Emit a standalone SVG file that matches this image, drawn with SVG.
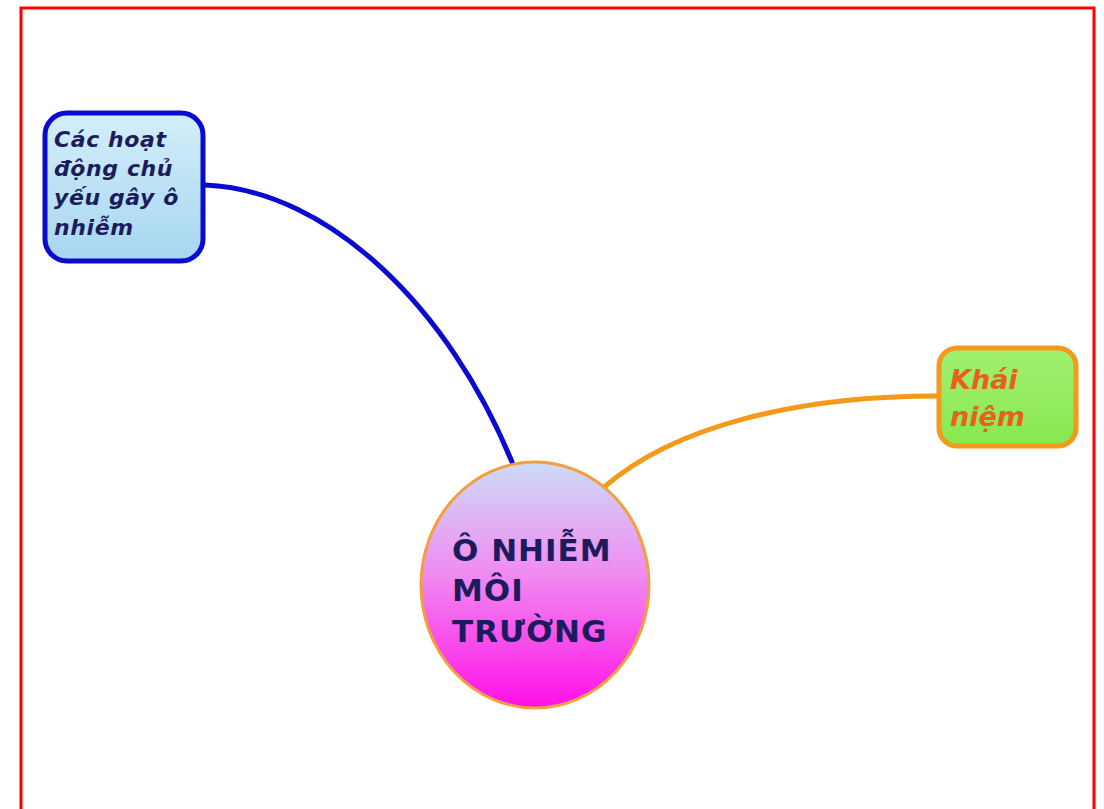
<svg xmlns="http://www.w3.org/2000/svg" width="1104" height="809" viewBox="0 0 1104 809">
<defs>
<linearGradient id="gBlue" x1="0" y1="0" x2="0" y2="1">
<stop offset="0" stop-color="#d4eefa"/>
<stop offset="1" stop-color="#a6d6f0"/>
</linearGradient>
<linearGradient id="gGreen" x1="0" y1="0" x2="0" y2="1">
<stop offset="0" stop-color="#a0f070"/>
<stop offset="1" stop-color="#88e850"/>
</linearGradient>
<linearGradient id="gCenter" x1="0" y1="0" x2="0" y2="1">
<stop offset="0" stop-color="#ccdcf8"/>
<stop offset="0.45" stop-color="#f08cf0"/>
<stop offset="1" stop-color="#ff10e8"/>
</linearGradient>
</defs>
<style>
.conn{fill:none;stroke-width:5;stroke-linecap:round}
.sub{font-family:"DejaVu Sans","Noto Sans",sans-serif;font-weight:bold;font-style:italic}
.main{font-family:"DejaVu Sans","Noto Sans",sans-serif;font-weight:bold;fill:#1c1c5c;font-size:31px;letter-spacing:1px}
</style>
<rect x="0" y="0" width="1104" height="809" fill="#ffffff"/>
<rect x="21" y="8" width="1073" height="820" fill="#ffffff" stroke="#ff0000" stroke-width="3"/>
<g id="connectors">
<path class="conn" stroke="#0a0ad0" d="M205,185 C330,190 450,310 512,462"/>
<path class="conn" stroke="#f49a1a" d="M603,488 C675,425 800,396 937,396"/>
</g>
<g id="node-left">
<rect x="45" y="113" width="158" height="148" rx="22" ry="22" fill="url(#gBlue)" stroke="#0a0ad0" stroke-width="5"/>
<text class="sub" fill="#1c1c5c" font-size="22" letter-spacing="0.6">
<tspan x="54" y="147">Các hoạt</tspan>
<tspan x="54" y="176">động chủ</tspan>
<tspan x="54" y="205">yếu gây ô</tspan>
<tspan x="54" y="235">nhiễm</tspan>
</text>
</g>
<g id="node-right">
<rect x="939" y="348" width="137" height="98" rx="18" ry="18" fill="url(#gGreen)" stroke="#f49a1a" stroke-width="5"/>
<text class="sub" fill="#e8601a" font-size="27">
<tspan x="950" y="389">Khái</tspan>
<tspan x="950" y="426">niệm</tspan>
</text>
</g>
<g id="node-center">
<ellipse cx="535" cy="585" rx="114" ry="123" fill="url(#gCenter)" stroke="#f0a040" stroke-width="3"/>
<text class="main">
<tspan x="452" y="561">Ô NHIỄM</tspan>
<tspan x="452" y="601">MÔI</tspan>
<tspan x="452" y="642">TRƯỜNG</tspan>
</text>
</g>
</svg>
